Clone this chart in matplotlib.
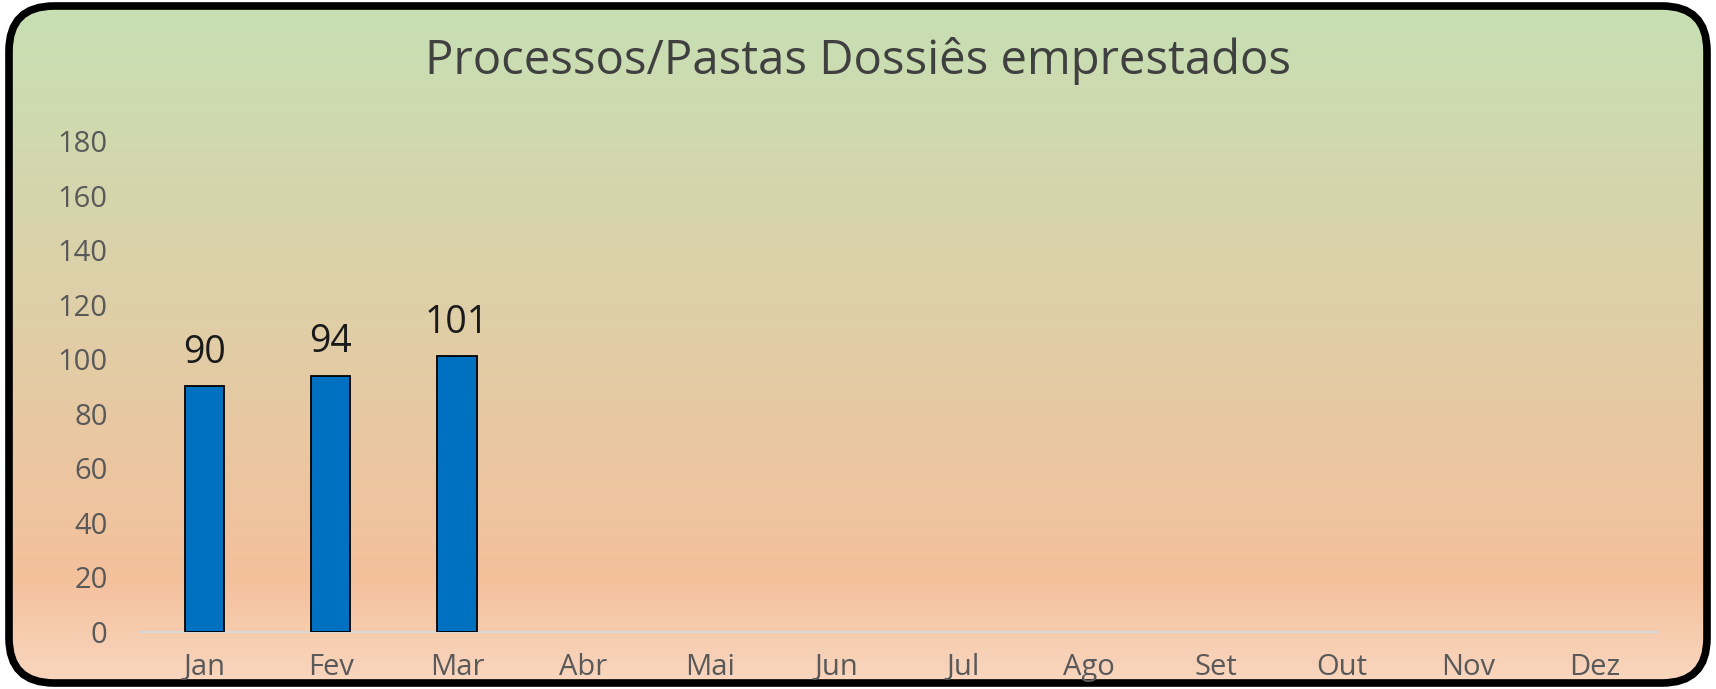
import matplotlib
matplotlib.use('Agg')
import matplotlib.pyplot as plt
import numpy as np
from matplotlib.patches import FancyBboxPatch
from matplotlib.colors import LinearSegmentedColormap

## -- data
meses   = ['Jan','Fev','Mar','Abr','Mai','Jun','Jul','Ago','Set','Out','Nov','Dez']
valores = [90, 94, 101]          ## -- only first three months filled
titulo  = 'Processos/Pastas Dossiês emprestados'
yticks  = list(range(0, 181, 20))

W, H = 1716, 689
plt.rcParams['font.family'] = ['Open Sans', 'DejaVu Sans']

fig = plt.figure(figsize=(W/100., H/100.), dpi=100)
fig.patch.set_facecolor('white')

## -- background: gradient inside a rounded frame (pixel coords)
bg = fig.add_axes([0, 0, 1, 1])
bg.set_xlim(0, W)
bg.set_ylim(H, 0)
bg.axis('off')
grad = LinearSegmentedColormap.from_list('fundo', [
 (0.0,  (198/255., 224/255., 180/255.)),
 (0.84, (244/255., 192/255., 156/255.)),
 (1.0,  (249/255., 215/255., 192/255.)),
])
g = np.linspace(0, 1, 400).reshape(-1, 1)
im = bg.imshow(g, cmap=grad, extent=[0, W, H, 0], aspect='auto', zorder=0)
frame = FancyBboxPatch((9, 6), W-18, H-12,
 boxstyle='round,pad=0,rounding_size=45',
 facecolor='none', edgecolor='black', linewidth=5.5, zorder=2)
bg.add_patch(frame)
im.set_clip_path(frame)

## -- chart area
x0, x1, ybase, ytop = 141, 1658, 632, 141
ax = fig.add_axes([x0/float(W), (H-ybase)/float(H), (x1-x0)/float(W), (ybase-ytop)/float(H)])
ax.patch.set_alpha(0)
pos = np.arange(len(meses))
ax.bar(pos[:len(valores)], valores, width=0.31, color='#0070C0',
 edgecolor='black', linewidth=1.3, zorder=3)
for i, v in enumerate(valores):
 ax.annotate(str(v), (pos[i], v), xytext=(0, 17), textcoords='offset points',
  ha='center', va='baseline', fontsize=27, color='#1a1a1a')

ax.set_xlim(-0.5, len(meses)-0.5)
ax.set_ylim(0, 180)
ax.set_xticks(pos)
ax.set_xticklabels(meses)
ax.set_yticks(yticks)
ax.tick_params(axis='both', length=0, labelsize=21, labelcolor='#595959')
ax.tick_params(axis='y', pad=24)
ax.tick_params(axis='x', pad=15)
for s in ['top', 'right', 'left']:
 ax.spines[s].set_visible(False)
ax.spines['bottom'].set_color('#D9D9D9')
ax.spines['bottom'].set_linewidth(1.5)

fig.text(0.5, 1-74./H, titulo, ha='center', va='baseline',
 fontsize=34, color='#404040')

fig.savefig('out.png', dpi=100)
